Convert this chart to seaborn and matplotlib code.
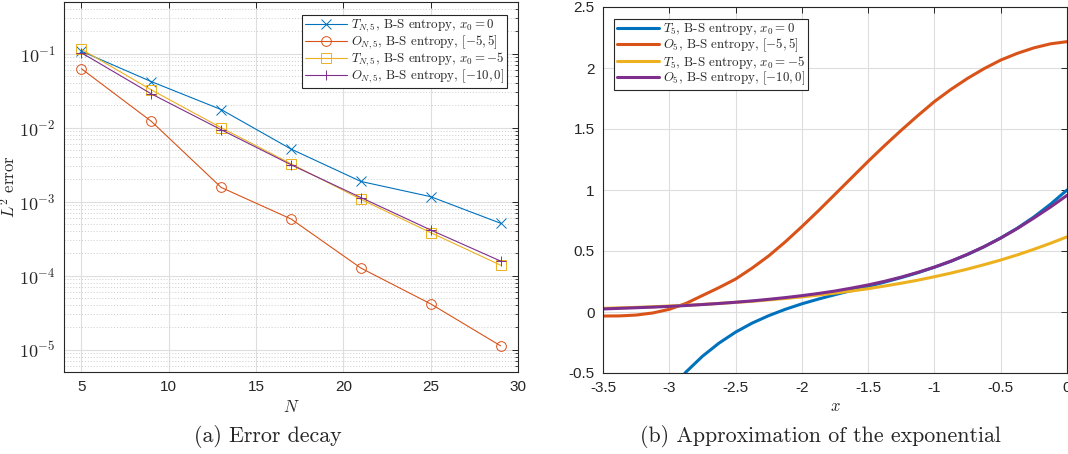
import numpy as np
import pandas as pd
import matplotlib
matplotlib.use("Agg")
import matplotlib.pyplot as plt
import seaborn as sns

# ---------------- data: (a) error decay ----------------
N_vals = [5, 9, 13, 17, 21, 25, 29]
err_T_x0_0 = [0.108, 0.042, 0.0176, 0.00515, 0.00188, 0.00117, 0.000512]
err_O_m5_5 = [0.0626, 0.0122, 0.00156, 0.000585, 0.000127, 4.16e-5, 1.13e-5]
err_T_x0_m5 = [0.115, 0.0325, 0.0100, 0.00326, 0.00108, 0.000382, 0.000139]
err_O_m10_0 = [0.103, 0.0287, 0.0094, 0.00316, 0.00114, 0.000415, 0.000158]

labels_a = [r'$T_{N,5}$, B-S entropy, $x_0=0$',
            r'$O_{N,5}$, B-S entropy, $[-5,5]$',
            r'$T_{N,5}$, B-S entropy, $x_0=-5$',
            r'$O_{N,5}$, B-S entropy, $[-10,0]$']

# ---------------- data: (b) approximation of exponential ----------------
x_vals = [-3.5, -3.375, -3.25, -3.125, -3.0, -2.875, -2.75, -2.625, -2.5, -2.375,
          -2.25, -2.125, -2.0, -1.875, -1.75, -1.625, -1.5, -1.375, -1.25, -1.125,
          -1.0, -0.875, -0.75, -0.625, -0.5, -0.375, -0.25, -0.125, 0.0]
y_T5_x0_0 = [-1.07, -0.94, -0.83, -0.73, -0.65, -0.493, -0.363, -0.255, -0.165, -0.091,
             -0.030, 0.022, 0.067, 0.106, 0.142, 0.176, 0.210, 0.245, 0.282, 0.322,
             0.367, 0.416, 0.472, 0.535, 0.607, 0.687, 0.779, 0.883, 1.0]
y_O5_m5_5 = [-0.033, -0.032, -0.025, -0.008, 0.022, 0.070, 0.135, 0.200, 0.270, 0.360,
             0.460, 0.575, 0.700, 0.830, 0.965, 1.100, 1.235, 1.365, 1.490, 1.610,
             1.725, 1.825, 1.915, 1.995, 2.065, 2.120, 2.165, 2.198, 2.216]
y_T5_x0_m5 = [0.030, 0.034, 0.038, 0.043, 0.049, 0.055, 0.062, 0.070, 0.079, 0.088,
              0.099, 0.111, 0.124, 0.139, 0.155, 0.172, 0.191, 0.213, 0.236, 0.261,
              0.289, 0.319, 0.352, 0.388, 0.426, 0.468, 0.514, 0.563, 0.616]
y_O5_m10_0 = [0.025, 0.030, 0.035, 0.040, 0.046, 0.053, 0.061, 0.070, 0.080, 0.091,
              0.104, 0.118, 0.134, 0.152, 0.172, 0.196, 0.222, 0.252, 0.286, 0.325,
              0.368, 0.417, 0.473, 0.536, 0.606, 0.684, 0.770, 0.860, 0.956]

labels_b = [r'$T_5$, B-S entropy, $x_0=0$',
            r'$O_5$, B-S entropy, $[-5,5]$',
            r'$T_5$, B-S entropy, $x_0=-5$',
            r'$O_5$, B-S entropy, $[-10,0]$']

# ticks
xticks_a = [5, 10, 15, 20, 25, 30]
yexp_a = [-5, -4, -3, -2, -1]
xticks_b = [-3.5, -3, -2.5, -2, -1.5, -1, -0.5, 0]
yticks_b = [-0.5, 0, 0.5, 1, 1.5, 2, 2.5]

colors = ['#0072BD', '#D95319', '#EDB120', '#7E2F8E']
markers = ['x', 'o', 's', '+']

sns.set_theme(style="white")
plt.rcParams['font.family'] = ['Liberation Sans', 'DejaVu Sans']
plt.rcParams['mathtext.fontset'] = 'cm'
plt.rcParams['axes.unicode_minus'] = False

fig = plt.figure(figsize=(10.68, 4.54), dpi=100)
W, H = 1068, 454
def rect(l, t, r, b):
    return [l / W, 1 - b / H, (r - l) / W, (b - t) / H]

ax1 = fig.add_axes(rect(64, 2, 518, 372))
ax2 = fig.add_axes(rect(603, 7, 1067, 373))

edge = '#262626'
grid_c = '#dedede'

leg_kw = dict(prop={'family': 'cmr10', 'size': 9.3}, frameon=True,
              fancybox=False, framealpha=1, edgecolor=edge,
              handlelength=3.3, handletextpad=0.3, borderpad=0.2,
              labelspacing=-0.05, borderaxespad=0)

# ---- (a) ----
series_a = [err_T_x0_0, err_O_m5_5, err_T_x0_m5, err_O_m10_0]
for ys, c, m, lab in zip(series_a, colors, markers, labels_a):
    df = pd.DataFrame({'N': N_vals, 'err': ys})
    sns.lineplot(data=df, x='N', y='err', ax=ax1, color=c, marker=m,
                 markersize=7, markerfacecolor='none', markeredgecolor=c,
                 markeredgewidth=0.7, linewidth=0.8, label=lab)
ax1.set_yscale('log')
ax1.set_xlim(4, 30)
ax1.set_ylim(5e-6, 0.5)
ax1.set_xticks(xticks_a)
ax1.set_xticklabels([str(v) for v in xticks_a])
ax1.set_yticks([10.0 ** e for e in yexp_a])
ax1.set_yticklabels([r'$\mathsf{10^{%d}}$' % e for e in yexp_a], fontsize=13)
ax1.grid(True, which='major', color=grid_c, linewidth=0.8, linestyle='-')
ax1.yaxis.grid(True, which='minor', color='#cccccc', linewidth=0.7, linestyle=(0, (1, 2)))
ax1.set_xlabel(r'$N$', fontsize=12, labelpad=3)
ax1.set_ylabel(r'$L^2$ error', fontsize=12, family='cmr10')
ax1.yaxis.set_label_coords(-46 / 454, 0.5)
leg1 = ax1.legend(loc='upper right', bbox_to_anchor=(0.976, 0.965), **leg_kw)
leg1.get_frame().set_linewidth(0.8)

# ---- (b) ----
series_b = [y_T5_x0_0, y_O5_m5_5, y_T5_x0_m5, y_O5_m10_0]
for ys, c, lab in zip(series_b, colors, labels_b):
    df = pd.DataFrame({'x': x_vals, 'y': ys})
    sns.lineplot(data=df, x='x', y='y', ax=ax2, color=c, linewidth=2.2, label=lab)
ax2.set_xlim(-3.5, 0)
ax2.set_ylim(-0.5, 2.5)
ax2.set_xticks(xticks_b)
ax2.set_xticklabels(['%g' % v for v in xticks_b])
ax2.set_yticks(yticks_b)
ax2.set_yticklabels(['%g' % v for v in yticks_b])
ax2.grid(True, which='major', color=grid_c, linewidth=0.8, linestyle='-')
ax2.set_xlabel(r'$x$', fontsize=12, labelpad=3)
ax2.set_ylabel('')
leg2 = ax2.legend(loc='upper left', bbox_to_anchor=(0.024, 0.968), **leg_kw)
leg2.get_frame().set_linewidth(0.8)

for ax in (ax1, ax2):
    ax.set_axisbelow(True)
    for s in ax.spines.values():
        s.set_color(edge)
        s.set_linewidth(0.8)
    ax.tick_params(which='major', direction='in', length=4, width=0.7, color=edge,
                   top=True, right=True, labelcolor=edge, pad=6)
    ax.tick_params(axis='x', labelsize=11)
    ax.tick_params(which='minor', direction='in', length=2, width=0.6, color=edge,
                   top=True, right=True)
ax2.tick_params(axis='y', labelsize=11)
ax2.tick_params(which='minor', length=0)

fig.text(268 / W, 1 - 437 / H, '(a) Error decay', family='cmr10', fontsize=15.8,
         ha='center', va='center')
fig.text(820 / W, 1 - 437 / H, '(b) Approximation of the exponential', family='cmr10',
         fontsize=15.8, ha='center', va='center')

fig.savefig('out.png', dpi=100)
